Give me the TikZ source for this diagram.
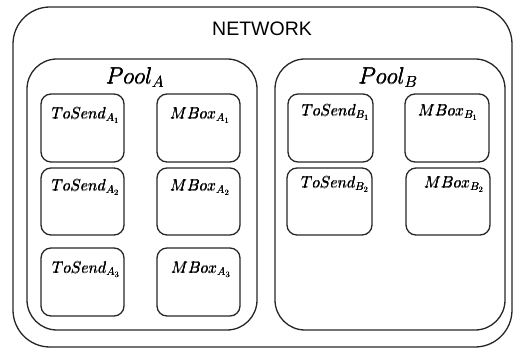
\RequirePackage{fix-cm}
\documentclass[tikz,border=0pt]{standalone}
\usepackage{fontspec}
\usepackage[copies]{contour}
\newfontfamily\netfont{Liberation Sans}
\contourlength{0.02pt}
\contournumber{2}
% slightly heavier italic labels
\newcommand\heavymath[1]{\contour{black}{$#1$}}
\begin{document}
\begin{tikzpicture}[x=1pt,y=-1pt,
  frame/.style={draw=black!85, line width=1.3pt, inner sep=0pt, fill=none},
  outer/.style={frame, rounded corners=37pt},
  pool/.style={frame, rounded corners=30pt},
  cell/.style={frame, rounded corners=10pt},
  title/.style={inner sep=0pt, anchor=base, font=\netfont\fontsize{19.5}{22}\selectfont},
  poolname/.style={inner sep=0pt, anchor=base, font=\fontsize{23}{26}\selectfont},
  cellname/.style={inner sep=0pt, anchor=base, font=\fontsize{16}{19}\selectfont}]
\useasboundingbox (0,0) rectangle (513,352);

% the network and its two pools
\node[outer, minimum width=499pt, minimum height=340pt] (net) at (262.5,177) {};
\node[title] (nettitle) at (262,36) {NETWORK};

\node[pool, minimum width=230pt, minimum height=271pt] (poolA) at (142,194.5) {};
\node[pool, minimum width=230pt, minimum height=271pt] (poolB) at (390,194.5) {};
\node[poolname] (poolAname) at (135,84) {\heavymath{Pool_A}};
\node[poolname] (poolBname) at (388,84) {\heavymath{Pool_B}};

% queues of pool A
\node[cell, minimum width=83pt, minimum height=68pt] (ta1) at (82.5,128) {};
\node[cell, minimum width=83pt, minimum height=68pt] (ma1) at (198.5,128) {};
\node[cell, minimum width=83pt, minimum height=67pt] (ta2) at (82.5,201.5) {};
\node[cell, minimum width=83pt, minimum height=67pt] (ma2) at (198.5,201.5) {};
\node[cell, minimum width=83pt, minimum height=68pt] (ta3) at (82.5,282) {};
\node[cell, minimum width=83pt, minimum height=68pt] (ma3) at (198.5,282) {};

\node[cellname] (ta1l) at (85.5,119) {\heavymath{ToSend_{A_1}}};
\node[cellname] (ma1l) at (200,119) {\heavymath{MBox_{A_1}}};
\node[cellname] (ta2l) at (85.5,191) {\heavymath{ToSend_{A_2}}};
\node[cellname] (ma2l) at (200,191) {\heavymath{MBox_{A_2}}};
\node[cellname] (ta3l) at (86,273) {\heavymath{ToSend_{A_3}}};
\node[cellname] (ma3l) at (201,273) {\heavymath{MBox_{A_3}}};

% queues of pool B
\node[cell, minimum width=85pt, minimum height=68pt] (tb1) at (330.5,128) {};
\node[cell, minimum width=84pt, minimum height=68pt] (mb1) at (447,128) {};
\node[cell, minimum width=85pt, minimum height=67pt] (tb2) at (329.5,201.5) {};
\node[cell, minimum width=84pt, minimum height=67pt] (mb2) at (448,201.5) {};

\node[cellname] (tb1l) at (335.5,116) {\heavymath{ToSend_{B_1}}};
\node[cellname] (mb1l) at (448,116) {\heavymath{MBox_{B_1}}};
\node[cellname] (tb2l) at (335,188) {\heavymath{ToSend_{B_2}}};
\node[cellname] (mb2l) at (454,188) {\heavymath{MBox_{B_2}}};
\end{tikzpicture}
\end{document}
